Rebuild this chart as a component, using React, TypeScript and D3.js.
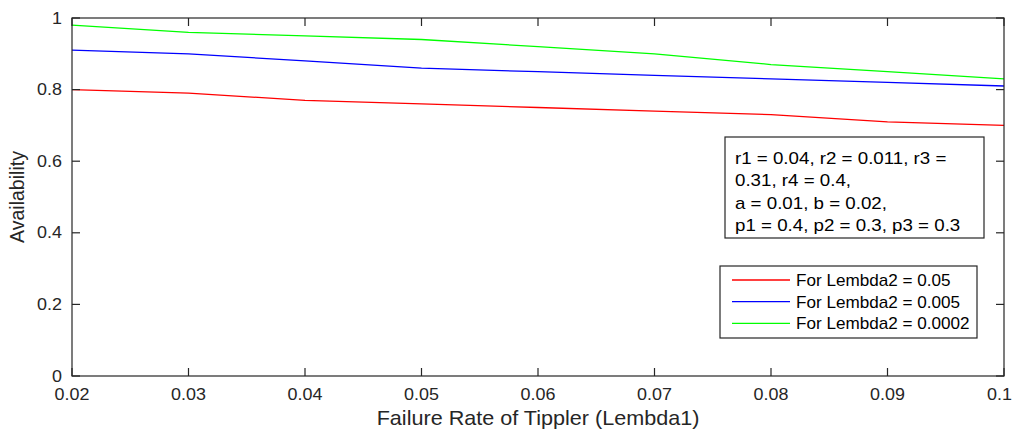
import React from "react";
import * as d3 from "d3";

const xValues = [0.02, 0.03, 0.04, 0.05, 0.06, 0.07, 0.08, 0.09, 0.1];
const redValues = [0.8, 0.79, 0.77, 0.76, 0.75, 0.74, 0.73, 0.71, 0.7];
const blueValues = [0.91, 0.9, 0.88, 0.86, 0.85, 0.84, 0.83, 0.82, 0.81];
const greenValues = [0.98, 0.96, 0.95, 0.94, 0.92, 0.9, 0.87, 0.85, 0.83];
const xTicks = [0.02, 0.03, 0.04, 0.05, 0.06, 0.07, 0.08, 0.09, 0.1];
const xTickLabels = ["0.02", "0.03", "0.04", "0.05", "0.06", "0.07", "0.08", "0.09", "0.1"];
const yTicks = [0, 0.2, 0.4, 0.6, 0.8, 1];
const yTickLabels = ["0", "0.2", "0.4", "0.6", "0.8", "1"];
const legendLabels = ["For Lembda2 = 0.05", "For Lembda2 = 0.005", "For Lembda2 = 0.0002"];
const noteLines = ["r1 = 0.04, r2 = 0.011, r3 =", "0.31, r4 = 0.4,", "a = 0.01, b = 0.02,", "p1 = 0.4, p2 = 0.3, p3 = 0.3"];

const series = [
  { values: redValues, color: "#ff0000" },
  { values: blueValues, color: "#0000ff" },
  { values: greenValues, color: "#00ff00" },
];

export default function App() {
  const W = 1014, H = 430;
  const left = 72, right = 1004, top = 18, bottom = 376;
  const x = d3.scaleLinear().domain([0.02, 0.1]).range([left, right]);
  const y = d3.scaleLinear().domain([0, 1]).range([bottom, top]);
  const line = d3.line<number>().x((_, i) => x(xValues[i])).y((d) => y(d));
  const font = "Liberation Sans, Arial, sans-serif";
  const axisColor = "#262626";
  const tl = 8;
  const T = (px: number, py: number, sx: number) => `translate(${px},${py}) scale(${sx},1)`;
  return (
    <svg width={W} height={H} style={{ position: "absolute", left: 0, top: 0, background: "#fff" }}>
      <rect x={0} y={0} width={W} height={H} fill="#fff" />
      {series.map((s, i) => (
        <path key={i} d={line(s.values) || ""} fill="none" stroke={s.color} strokeWidth={1.3} />
      ))}
      <rect x={left} y={top} width={right - left} height={bottom - top} fill="none" stroke={axisColor} strokeWidth={1.2} />
      {xTicks.map((t, i) => {
        const last = i === xTicks.length - 1;
        return (
          <g key={"x" + i}>
            <line x1={x(t)} x2={x(t)} y1={bottom} y2={bottom - tl} stroke={axisColor} strokeWidth={1.2} />
            <line x1={x(t)} x2={x(t)} y1={top} y2={top + tl} stroke={axisColor} strokeWidth={1.2} />
            <text transform={T(last ? W - 2 : x(t), bottom + 24, 1.12)} textAnchor={last ? "end" : "middle"} fontFamily={font} fontSize={16} fill={axisColor}>
              {xTickLabels[i]}
            </text>
          </g>
        );
      })}
      {yTicks.map((t, i) => (
        <g key={"y" + i}>
          <line x1={left} x2={left + tl} y1={y(t)} y2={y(t)} stroke={axisColor} strokeWidth={1.2} />
          <line x1={right} x2={right - tl} y1={y(t)} y2={y(t)} stroke={axisColor} strokeWidth={1.2} />
          <text transform={T(left - 10, y(t) + 5.5, 1.12)} textAnchor="end" fontFamily={font} fontSize={16} fill={axisColor}>
            {yTickLabels[i]}
          </text>
        </g>
      ))}
      <text transform={T((left + right) / 2, 425, 1.08)} textAnchor="middle" fontFamily={font} fontSize={20} fill={axisColor}>
        Failure Rate of Tippler (Lembda1)
      </text>
      <text transform={`translate(24, ${197}) rotate(-90)`} textAnchor="middle" fontFamily={font} fontSize={19.5} fill={axisColor}>
        Availability
      </text>
      <rect x={725} y={137} width={259} height={101} fill="#fff" stroke={axisColor} strokeWidth={1.2} />
      {noteLines.map((l, i) => (
        <text key={"n" + i} transform={T(735, 164 + i * 22.3, 1.17)} fontFamily={font} fontSize={16} fill="#000">
          {l}
        </text>
      ))}
      <rect x={720} y={266} width={257} height={72} fill="#fff" stroke={axisColor} strokeWidth={1.2} />
      {legendLabels.map((l, i) => (
        <g key={"l" + i}>
          <line x1={732} x2={790} y1={280 + i * 21.7} y2={280 + i * 21.7} stroke={series[i].color} strokeWidth={1.3} />
          <text transform={T(796, 286 + i * 21.7, 1.07)} fontFamily={font} fontSize={16} fill="#000">
            {l}
          </text>
        </g>
      ))}
    </svg>
  );
}
